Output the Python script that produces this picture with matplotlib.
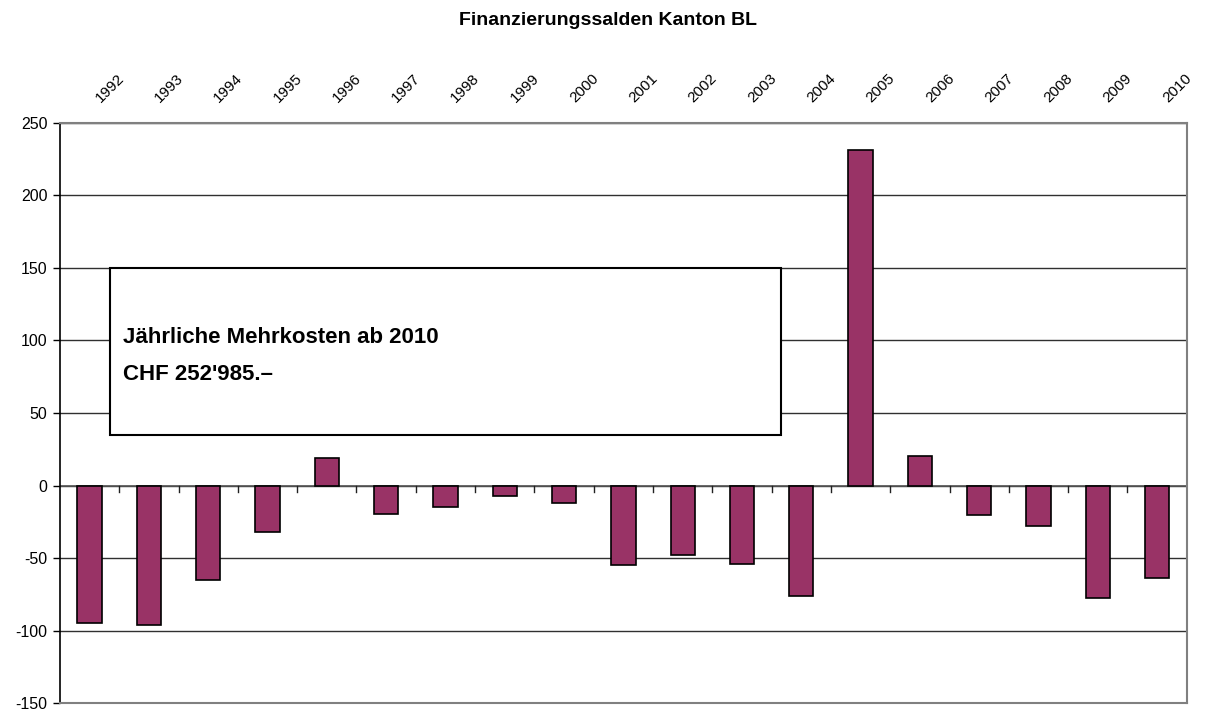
import numpy as np
import matplotlib.pyplot as plt
from matplotlib.patches import Rectangle

# Finanzierungssalden Kanton BL (Mio. CHF)
jahre = ['1992', '1993', '1994', '1995', '1996', '1997', '1998', '1999', '2000', '2001',
         '2002', '2003', '2004', '2005', '2006', '2007', '2008', '2009', '2010']
salden = [-95, -96, -65, -32, 19, -19.5, -15, -7, -12, -54.5,
          -48, -54.3, -76.3, 231.5, 20.6, -20, -28.2, -77.2, -64]

plt.rcParams['font.family'] = ['Liberation Sans', 'DejaVu Sans']
plt.rcParams['axes.unicode_minus'] = False

fig = plt.figure(figsize=(12.07, 7.15), dpi=100)
ax = fig.add_axes([0.0497, 0.0164, 0.9335, 0.812])

x = np.arange(len(jahre))
ax.bar(x, salden, width=0.41, color='#993366', edgecolor='black', linewidth=1.2, zorder=3)

ax.set_xlim(-0.5, len(jahre) - 0.5)
ax.set_ylim(-150, 250)
ax.set_yticks(np.arange(-150, 251, 50))
ax.tick_params(axis='y', direction='out', length=5, width=1, labelsize=11.5, pad=4)
for v in np.arange(-100, 251, 50):
    ax.axhline(v, color='#303030', linewidth=1, zorder=1)

# x-Achse auf Nulllinie mit Strichen zwischen den Kategorien
ax.set_xticks([])
ax.axhline(0, color='#555555', linewidth=1.2, zorder=2)
for b in np.arange(0.5, len(jahre) - 0.5, 1):
    ax.plot([b, b], [0, -4.5], color='#222222', linewidth=1, zorder=2)

for s in ['top', 'right', 'bottom']:
    ax.spines[s].set_color('#808080')
    ax.spines[s].set_linewidth(1.5)
ax.spines['left'].set_color('black')
ax.spines['left'].set_linewidth(1.2)

# Jahreslabels oben
for i, j in enumerate(jahre):
    ax.text(i + 0.22, 1.03, j, transform=ax.get_xaxis_transform(), rotation=45,
            rotation_mode='anchor', ha='left', va='bottom', fontsize=11)

fig.text(0.5035, 0.972, 'Finanzierungssalden Kanton BL', ha='center', va='center',
         fontsize=14, fontweight='bold')

ax.add_patch(Rectangle((0.34, 35), 11.32, 115, facecolor='white', edgecolor='black',
                       linewidth=1.5, zorder=5))
ax.text(0.56, 98, 'Jährliche Mehrkosten ab 2010', fontsize=16, fontweight='bold', zorder=6,
        va='baseline')
ax.text(0.56, 73, "CHF 252'985.–", fontsize=16, fontweight='bold', zorder=6, va='baseline')

fig.savefig('out.png', dpi=100)
